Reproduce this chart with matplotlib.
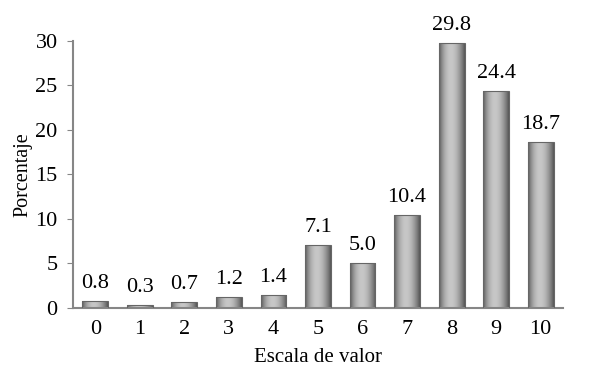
import numpy as np
import matplotlib
matplotlib.use('Agg')
import matplotlib.pyplot as plt

plt.rcParams['font.family'] = ['Liberation Serif', 'DejaVu Serif']

escala = [0, 1, 2, 3, 4, 5, 6, 7, 8, 9, 10]
porcentaje = [0.8, 0.3, 0.7, 1.2, 1.4, 7.1, 5.0, 10.4, 29.8, 24.4, 18.7]

fig = plt.figure(figsize=(5.97, 3.76), dpi=100)
ax = fig.add_axes([0.1223, 0.181, 0.8207, 0.71])

bars = ax.bar(escala, porcentaje, width=0.58, color='none', edgecolor='#666666', linewidth=0.8, zorder=3)

# cylinder shading: dark edges, light middle
t = np.linspace(0, 1, 64)
shade = 0.34 + 0.44 * np.sin(np.pi * t ** 0.9) ** 0.9
grad = np.tile(shade, (2, 1))
for b in bars:
    x0, w, h = b.get_x(), b.get_width(), b.get_height()
    im = ax.imshow(grad, cmap='gray', vmin=0, vmax=1, aspect='auto',
                   extent=[x0, x0 + w, 0, h], zorder=2, interpolation='bilinear')
    im.set_clip_path(b)

fs = 16
for x, v in zip(escala, porcentaje):
    ax.text(x, v + 0.9, '%.1f' % v, ha='center', va='bottom', fontsize=fs)

ax.set_xlim(-0.5, 10.5)
ax.set_ylim(0, 30)
ax.set_yticks([0, 5, 10, 15, 20, 25, 30])
ax.set_xticks(escala)
ax.tick_params(axis='x', length=0, labelsize=fs, pad=9)
ax.tick_params(axis='y', length=4, color='#868686', labelsize=fs, pad=7)
for s in ['top', 'right']:
    ax.spines[s].set_visible(False)
for s in ['left', 'bottom']:
    ax.spines[s].set_color('#868686')
    ax.spines[s].set_linewidth(1.5)

ax.set_xlabel('Escala de valor', fontsize=15, labelpad=6)
ax.set_ylabel('Porcentaje', fontsize=14.5, labelpad=2)

fig.savefig('out.png', dpi=100)
